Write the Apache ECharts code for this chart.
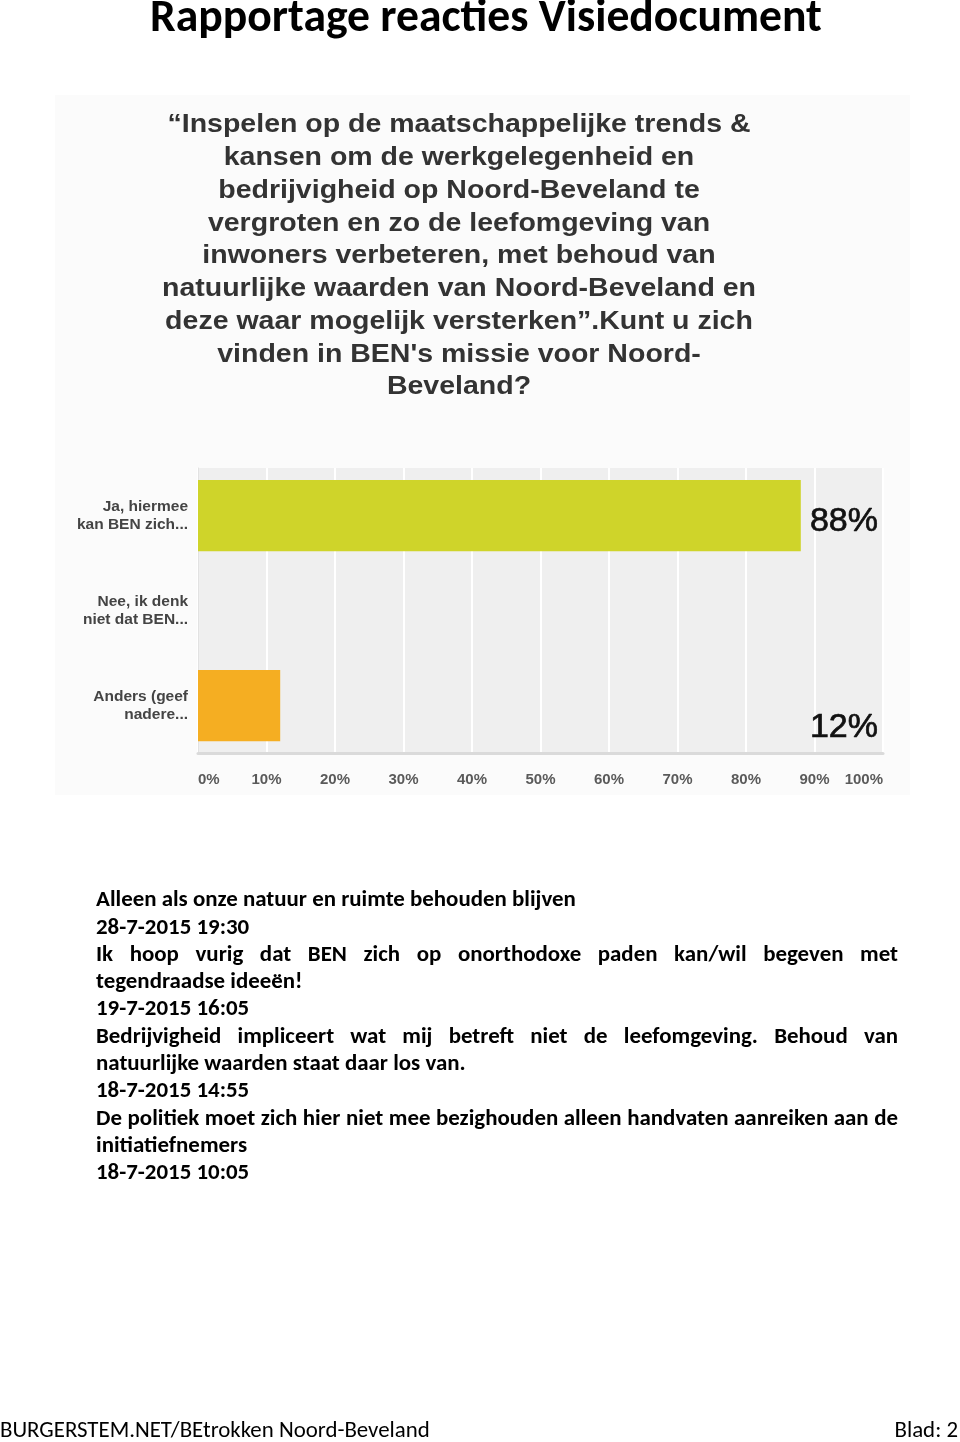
<!DOCTYPE html>
<html><head><meta charset="utf-8">
<script src="https://cdn.jsdelivr.net/npm/echarts@6/dist/echarts.min.js"></script>
<style>html,body{margin:0;padding:0;background:#fff}#c{width:960px;height:1442px}</style>
</head><body><div id="c"></div>
<script>
// ---- data ----
const pageTitle = 'Rapportage reacties Visiedocument';
const questionLines = [
  '\u201CInspelen op de maatschappelijke trends &',
  'kansen om de werkgelegenheid en',
  'bedrijvigheid op Noord-Beveland te',
  'vergroten en zo de leefomgeving van',
  'inwoners verbeteren, met behoud van',
  'natuurlijke waarden van Noord-Beveland en',
  'deze waar mogelijk versterken\u201D.Kunt u zich',
  'vinden in BEN\'s missie voor Noord-',
  'Beveland?'
];
const categories = ['Ja, hiermee\nkan BEN zich...', 'Nee, ik denk\nniet dat BEN...', 'Anders (geef\nnadere...'];
const percentages = [88, 0, 12];
const barColors = ['#cfd42a', '#cfd42a', '#f5ae22'];
const commentLines = [
  'Alleen als onze natuur en ruimte behouden blijven',
  '28-7-2015 19:30',
  'Ik hoop vurig dat BEN zich op onorthodoxe paden kan/wil begeven met',
  'tegendraadse ideeën!',
  '19-7-2015 16:05',
  'Bedrijvigheid impliceert wat mij betreft niet de leefomgeving. Behoud van',
  'natuurlijke waarden staat daar los van.',
  '18-7-2015 14:55',
  'De politiek moet zich hier niet mee bezighouden alleen handvaten aanreiken aan de',
  'initiatiefnemers',
  '18-7-2015 10:05'
];
const justifiedLines = [2, 5, 8];
const footerLeft = 'BURGERSTEM.NET/BEtrokken Noord-Beveland';
const footerRight = 'Blad: 2';

// ---- layout helpers ----
const chart = echarts.init(document.getElementById('c'), null, {renderer: 'canvas'});
const measureCtx = document.createElement('canvas').getContext('2d');
function textWidth(text, font) { measureCtx.font = font; return measureCtx.measureText(text).width; }
// size a font so that a given text spans a target width
function fitSize(text, weight, family, target) {
  const w = textWidth(text, weight + ' 100px ' + family);
  return 100 * target / w;
}

const titleSize = fitSize(pageTitle, 'bold', 'Carlito', 672);
const commentSize = fitSize(commentLines[0], 'bold', 'Carlito', 480);
const footerSize = fitSize(footerLeft, 'normal', 'Carlito', 430);
const commentFont = 'bold ' + commentSize.toFixed(2) + 'px Carlito';
const questionFont = 'bold 25px "Liberation Sans"';
const questionScaleX = 583 / textWidth(questionLines[0], questionFont);

const graphics = [];
graphics.push({type: 'rect', z: -10, shape: {x: 55, y: 95, width: 855, height: 700}, style: {fill: '#fbfbfb'}});
graphics.push({type: 'text', x: 486, y: 20, style: {text: pageTitle, font: 'bold ' + titleSize.toFixed(2) + 'px Carlito', fill: '#000', textAlign: 'center', textVerticalAlign: 'middle'}});
questionLines.forEach((t, i) => {
  graphics.push({type: 'text', x: 459, y: 125.6 + i * 32.75, scaleX: questionScaleX, style: {text: t, font: questionFont, fill: '#333', textAlign: 'center', textVerticalAlign: 'middle'}});
});
const cx0 = 96, cx1 = 898;
measureCtx.font = commentFont;
commentLines.forEach((t, i) => {
  const y = 900.5 + i * 27.3;
  if (justifiedLines.includes(i)) {
    const words = t.split(' ');
    const widths = words.map(w => measureCtx.measureText(w).width);
    const total = widths.reduce((a, b) => a + b, 0);
    const gap = (cx1 - cx0 - total) / (words.length - 1);
    let x = cx0;
    words.forEach((w, k) => {
      graphics.push({type: 'text', x: x, y: y, style: {text: w, font: commentFont, fill: '#000', textAlign: 'left', textVerticalAlign: 'middle'}});
      x += widths[k] + gap;
    });
  } else {
    graphics.push({type: 'text', x: cx0, y: y, style: {text: t, font: commentFont, fill: '#000', textAlign: 'left', textVerticalAlign: 'middle'}});
  }
});
const footerFont = footerSize.toFixed(2) + 'px Carlito';
graphics.push({type: 'text', x: 0, y: 1431.5, style: {text: footerLeft, font: footerFont, fill: '#000', textAlign: 'left', textVerticalAlign: 'middle'}});
graphics.push({type: 'text', x: 958, y: 1431.5, style: {text: footerRight, font: footerFont, fill: '#000', textAlign: 'right', textVerticalAlign: 'middle'}});

const labelOffsets = [[0, 6], [0, 0], [0, 22.5]];

chart.setOption({
  animation: false,
  backgroundColor: '#fff',
  grid: {left: 198, right: 77, top: 468, bottom: 689, show: true, backgroundColor: '#efefef', borderWidth: 0},
  xAxis: {
    type: 'value', min: 0, max: 100, interval: 10,
    axisLine: {show: true, lineStyle: {color: '#dadada', width: 3}},
    axisTick: {show: false},
    splitLine: {show: true, lineStyle: {color: '#ffffff', width: 2}},
    axisLabel: {formatter: '{value}%', margin: 19, color: '#5a5a5a', fontFamily: '"Liberation Sans"', fontWeight: 'bold', fontSize: 15, alignMinLabel: 'left', alignMaxLabel: 'right'}
  },
  yAxis: {
    type: 'category', data: categories, inverse: true,
    axisLine: {show: true, lineStyle: {color: '#e2e2e2', width: 1}},
    axisTick: {show: false},
    axisLabel: {margin: 10, color: '#444', fontFamily: '"Liberation Sans"', fontWeight: 'bold', fontSize: 15.5, lineHeight: 18, align: 'right'}
  },
  series: [
    {
      type: 'bar', barWidth: '75%',
      data: percentages.map((v, i) => ({value: v, itemStyle: {color: barColors[i]}})),
      silent: true
    },
    {
      type: 'bar', barWidth: '75%', barGap: '-100%', silent: true,
      data: percentages.map((v, i) => ({
        value: 100,
        itemStyle: {color: 'rgba(0,0,0,0)'},
        label: {show: v > 0, position: 'insideRight', distance: 5, offset: labelOffsets[i],
          formatter: () => v + '%', fontSize: 34, color: '#111', fontFamily: '"Liberation Sans"',
          textBorderColor: '#111', textBorderWidth: 0.7}
      }))
    }
  ],
  graphic: graphics
});
</script></body></html>
